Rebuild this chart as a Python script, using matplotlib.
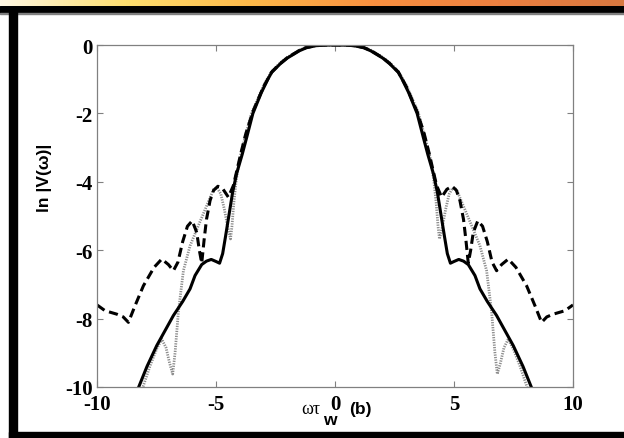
import numpy as np
import matplotlib
matplotlib.use("Agg")
import matplotlib.pyplot as plt
from matplotlib.colors import LinearSegmentedColormap

# Solid curve
solid_x = [-8.4, -8.27, -7.9, -7.49, -7.1, -6.79, -6.4, -6.09, -5.88, -5.6, -5.4, -5.2, -5.0, -4.85,
           -4.72, -4.6, -4.45, -4.3, -4.13, -3.9, -3.71, -3.45, -3.1, -2.82, -2.66, -2.3, -2.0, -1.5,
           -1.2, -0.8, -0.5, 0.0, 0.5, 0.8, 1.2, 1.5, 2.0, 2.3, 2.66, 2.82, 3.1, 3.45, 3.71, 3.9,
           4.13, 4.3, 4.45, 4.6, 4.72, 4.85, 5.0, 5.2, 5.4, 5.6, 5.88, 6.09, 6.4, 6.79, 7.1, 7.49,
           7.9, 8.27, 8.4]
solid_y = [-10.3, -10.04, -9.4, -8.79, -8.3, -7.91, -7.5, -7.13, -6.74, -6.42, -6.32, -6.27, -6.33, -6.38,
           -6.1, -5.6, -4.95, -4.3, -3.75, -3.2, -2.7, -2.0, -1.4, -1.0, -0.8, -0.55, -0.38, -0.17,
           -0.08, -0.02, -0.005, 0.0, -0.005, -0.02, -0.08, -0.17, -0.38, -0.55, -0.8, -1.0, -1.4, -2.0, -2.7, -3.2,
           -3.75, -4.3, -4.95, -5.6, -6.1, -6.38, -6.33, -6.27, -6.32, -6.42, -6.74, -7.13, -7.5, -7.91, -8.3, -8.79,
           -9.4, -10.04, -10.3]

# Dashed curve
dash_x = [-10.0, -9.66, -9.17, -8.9, -8.68, -8.4, -8.05, -7.6, -7.28, -7.0, -6.79, -6.6, -6.4, -6.2,
          -6.0, -5.81, -5.7, -5.6, -5.5, -5.4, -5.25, -5.1, -4.92, -4.7, -4.48, -4.27, -4.15, -3.95,
          -3.75, -3.45, -3.0, -2.66, -2.3, -2.0, -1.5, -1.2, -0.8, -0.5, 0.0, 0.5, 0.8, 1.2, 1.5, 2.0,
          2.3, 2.66, 3.0, 3.45, 3.75, 3.95, 4.15, 4.27, 4.48, 4.7, 4.92, 5.1, 5.25, 5.4, 5.5, 5.6, 5.7,
          5.81, 6.0, 6.2, 6.4, 6.6, 6.79, 7.0, 7.28, 7.6, 8.05, 8.4, 8.68, 8.9, 9.17, 9.66, 10.0]
dash_y = [-7.6, -7.77, -7.87, -7.95, -8.11, -7.62, -7.04, -6.5, -6.26, -6.42, -6.6, -6.35, -5.75, -5.3,
          -5.14, -5.48, -6.0, -6.38, -5.7, -5.1, -4.55, -4.25, -4.13, -4.22, -4.45, -4.11, -3.75, -3.15,
          -2.6, -1.95, -1.22, -0.79, -0.54, -0.37, -0.16, -0.07, -0.02, -0.005, 0.0, -0.005, -0.02, -0.07, -0.16, -0.37,
          -0.54, -0.79, -1.22, -1.95, -2.6, -3.15, -3.75, -4.11, -4.45, -4.22, -4.13, -4.25, -4.55, -5.1, -5.7, -6.38, -6.0,
          -5.48, -5.14, -5.3, -5.75, -6.35, -6.6, -6.42, -6.26, -6.5, -7.04, -7.62, -8.11, -7.95, -7.87, -7.77, -7.6]

# Dotted curve
dot_x = [-8.15, -8.05, -7.77, -7.5, -7.28, -7.1, -6.95, -6.82, -6.72, -6.58, -6.37, -6.09, -5.74,
         -5.39, -5.1, -4.95, -4.8, -4.65, -4.5, -4.39, -4.33, -4.25, -4.15, -4.0, -3.8, -3.5, -3.0,
         -2.66, -2.3, -2.0, -1.5, -1.2, -0.8, -0.5, 0.0, 0.5, 0.8, 1.2, 1.5, 2.0, 2.3, 2.66, 3.0, 3.5,
         3.8, 4.0, 4.15, 4.25, 4.33, 4.39, 4.5, 4.65, 4.8, 4.95, 5.1, 5.39, 5.74, 6.09, 6.37, 6.58,
         6.72, 6.82, 6.95, 7.1, 7.28, 7.5, 7.77, 8.05, 8.15]
dot_y = [-10.2, -9.96, -9.38, -8.9, -8.6, -8.85, -9.3, -9.62, -9.0, -7.8, -6.6, -5.87, -5.28,
         -4.7, -4.22, -4.18, -4.35, -4.8, -5.35, -5.67, -5.3, -4.6, -3.95, -3.3, -2.75, -1.98, -1.18,
         -0.77, -0.52, -0.36, -0.15, -0.07, -0.02, -0.005, 0.0, -0.005, -0.02, -0.07, -0.15, -0.36, -0.52, -0.77, -1.18, -1.98,
         -2.75, -3.3, -3.95, -4.6, -5.3, -5.67, -5.35, -4.8, -4.35, -4.18, -4.22, -4.7, -5.28, -5.87, -6.6, -7.8,
         -9.0, -9.62, -9.3, -8.85, -8.6, -8.9, -9.38, -9.96, -10.2]

x_ticks = [-10, -5, 0, 5, 10]
y_ticks = [0, -2, -4, -6, -8, -10]

# colour stops of the orange strip at the top
band_colors = ["#fff8e4", "#ffe070", "#fdb94a", "#f99040", "#ec8040", "#d87840"]

fig = plt.figure(figsize=(6.24, 4.39), dpi=100)
H = 439.0
W = 624.0

# top gradient strip
band = fig.add_axes([0, 1 - 7 / H, 1, 7 / H])
cmap = LinearSegmentedColormap.from_list("band", band_colors)
band.imshow(np.linspace(0, 1, 256)[None, :], aspect="auto", cmap=cmap)
band.axis("off")

# black frame pieces
frame = fig.add_axes([0, 0, 1, 1], zorder=-1)
frame.set_xlim(0, W)
frame.set_ylim(H, 0)
frame.axis("off")
frame.add_patch(plt.Rectangle((0, 7), W, 7, color="black"))
frame.add_patch(plt.Rectangle((0, 14), W, 1, color="#808080"))
frame.add_patch(plt.Rectangle((9, 7), 8, H - 7, color="black"))
frame.add_patch(plt.Rectangle((9, 433), W - 9, 6, color="black"))

ax = fig.add_axes([97 / W, 1 - 388 / H, 476 / W, 342 / H])
ax.plot(dot_x, dot_y, color="0.55", linewidth=2.0, linestyle=(0, (0.45, 0.45)))
ax.plot(dash_x, dash_y, color="black", linewidth=2.2, linestyle=(0, (3.0, 1.6)))
ax.plot(solid_x, solid_y, color="black", linewidth=2.2)

ax.set_xlim(-10, 10)
ax.set_ylim(-10, 0)
ax.set_xticks(x_ticks)
ax.set_yticks(y_ticks)
ax.set_xticklabels([str(t) for t in x_ticks])
ax.set_yticklabels([str(t) for t in y_ticks])
for lab in ax.get_xticklabels() + ax.get_yticklabels():
    lab.set_fontfamily("Liberation Serif")
    lab.set_fontweight("bold")
    lab.set_fontsize(15)
ax.tick_params(direction="in", length=4, width=0.8, color="#808080",
               top=True, right=True)
ax.tick_params(axis="x", pad=5)
ax.tick_params(axis="y", pad=3)
for s in ax.spines.values():
    s.set_color("#808080")
    s.set_linewidth(0.9)

# axis labels
fig.text(44 / W, 1 - 178 / H, "ln |V(ω)|", rotation=90, ha="center", va="center",
         fontsize=12.5, fontweight="bold", family="Liberation Sans")
fig.text(311 / W, 1 - 410 / H, "ωτ", ha="center", va="center",
         fontsize=13, family="Liberation Serif")
fig.text(330 / W, 1 - 421 / H, "w", ha="center", va="center",
         fontsize=12.5, fontweight="bold", family="Liberation Sans")
fig.text(360 / W, 1 - 410 / H, "(b)", ha="center", va="center",
         fontsize=12.5, fontweight="bold", family="Liberation Sans")

fig.savefig("out.png", dpi=100)
